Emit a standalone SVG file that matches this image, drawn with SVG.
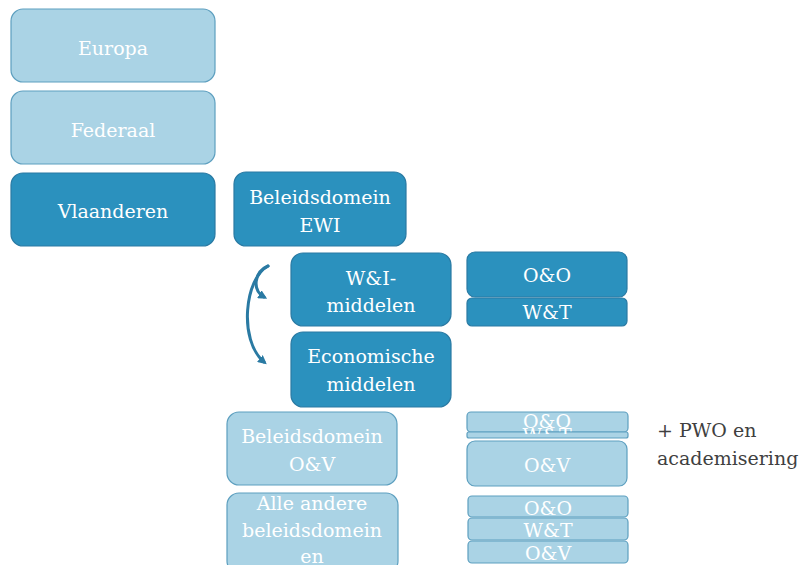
<svg xmlns="http://www.w3.org/2000/svg" width="799" height="565" viewBox="0 0 799 565">
<defs>
<style>
.dk{fill:#2b91be;stroke:#2a7aa3;stroke-width:1.2}
.lt{fill:#aad3e5;stroke:#5d9fbf;stroke-width:1.2}
.t{font-family:"DejaVu Serif","Liberation Serif",serif;font-size:19px;fill:#ffffff;text-anchor:middle}
.n{font-family:"DejaVu Serif","Liberation Serif",serif;font-size:19px;fill:#404040}
.c{fill:none;stroke:#2a7aa3;stroke-width:3;stroke-linecap:round}
</style>
<marker id="ah" viewBox="0 0 10 10" refX="6" refY="5" markerWidth="3" markerHeight="3" orient="auto"><path d="M0,0 L10,5 L0,10 z" fill="#2a7aa3"/></marker>
<clipPath id="cw"><rect x="460" y="410" width="180" height="24"/></clipPath>
</defs>
<rect width="799" height="565" fill="#ffffff"/>
<g id="europa"><rect class="lt" x="11" y="9" width="204" height="73" rx="12"/><text class="t" x="113" y="55">Europa</text></g>
<g id="federaal"><rect class="lt" x="11" y="91" width="204" height="73" rx="12"/><text class="t" x="113" y="137">Federaal</text></g>
<g id="vlaanderen"><rect class="dk" x="11" y="173" width="204" height="73" rx="12"/><text class="t" x="113" y="218">Vlaanderen</text></g>
<g id="ewi"><rect class="dk" x="234" y="172" width="172" height="74" rx="12"/><text class="t" x="320" y="204">Beleidsdomein</text><text class="t" x="320" y="232">EWI</text></g>
<g id="wi"><rect class="dk" x="291" y="253" width="160" height="73" rx="12"/><text class="t" x="371" y="285">W&amp;I-</text><text class="t" x="371" y="312">middelen</text></g>
<g id="eco"><rect class="dk" x="291" y="332" width="160" height="75" rx="12"/><text class="t" x="371" y="363">Economische</text><text class="t" x="371" y="391">middelen</text></g>
<g id="oo1"><rect class="dk" x="467" y="252" width="160" height="45" rx="8"/><text class="t" x="547" y="282">O&amp;O</text></g>
<g id="wt1"><rect class="dk" x="467" y="298" width="160" height="28" rx="5"/><text class="t" x="547" y="319">W&amp;T</text></g>
<g id="ov-domein"><rect class="lt" x="227" y="412" width="170" height="73" rx="12"/><text class="t" x="312" y="443">Beleidsdomein</text><text class="t" x="312" y="471">O&amp;V</text></g>
<g id="andere"><rect class="lt" x="227" y="493" width="171" height="80" rx="12"/><text class="t" x="312" y="510">Alle andere</text><text class="t" x="312" y="537">beleidsdomein</text><text class="t" x="312" y="563">en</text></g>
<g id="oo2"><rect class="lt" x="467" y="412" width="161" height="20" rx="4"/><text class="t" x="547" y="428">O&amp;O</text></g>
<g id="wt2"><rect class="lt" x="467" y="432" width="161" height="6" rx="2"/><text class="t" x="547" y="442" clip-path="url(#cw)">W&amp;T</text></g>
<g id="ov2"><rect class="lt" x="467" y="441" width="160" height="45" rx="8"/><text class="t" x="547" y="472">O&amp;V</text></g>
<g id="oo3"><rect class="lt" x="468" y="496" width="160" height="21" rx="4"/><text class="t" x="548" y="515">O&amp;O</text></g>
<g id="wt3"><rect class="lt" x="468" y="518" width="160" height="22" rx="4"/><text class="t" x="548" y="537">W&amp;T</text></g>
<g id="ov3"><rect class="lt" x="468" y="541" width="160" height="22" rx="4"/><text class="t" x="548" y="560">O&amp;V</text></g>
<g id="note"><text class="n" x="657" y="437">+ PWO en</text><text class="n" x="657" y="465">academisering</text></g>
<g id="connectors">
<path class="c" d="M268,266 C245,278 238,340 264,362" marker-end="url(#ah)"/>
<path class="c" d="M268,266 C254,272 252,290 264,297" marker-end="url(#ah)"/>
</g>
</svg>
